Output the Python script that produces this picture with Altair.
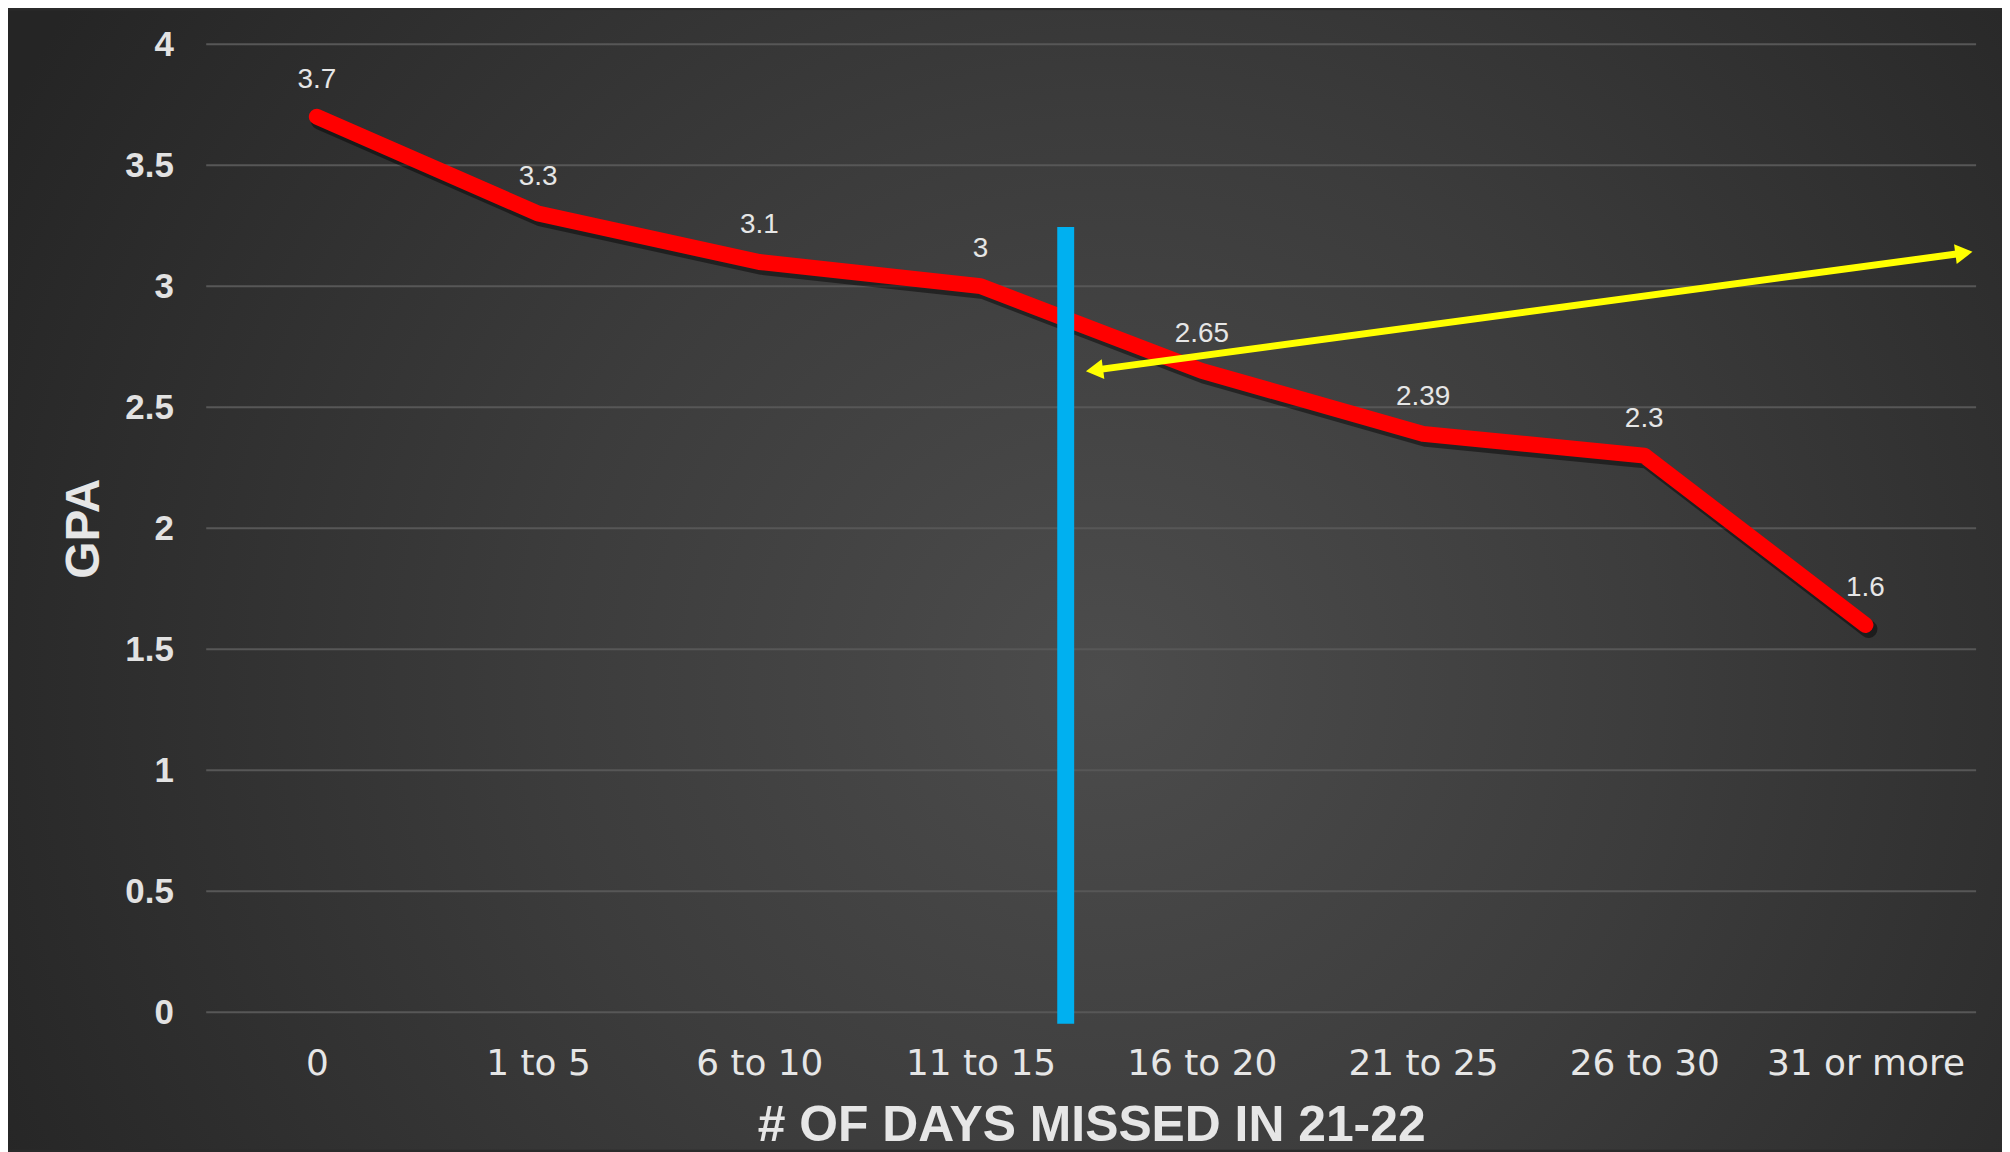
import json
import altair as alt
import pandas as pd

# ---- data ----
categories = ["0", "1 to 5", "6 to 10", "11 to 15", "16 to 20", "21 to 25", "26 to 30", "31 or more"]
gpa = [3.7, 3.3, 3.1, 3.0, 2.65, 2.39, 2.3, 1.6]
gpa_labels = ["3.7", "3.3", "3.1", "3", "2.65", "2.39", "2.3", "1.6"]
y_ticks = [0, 0.5, 1, 1.5, 2, 2.5, 3, 3.5, 4]

# annotations (in data units: x = category index, y = GPA)
blue_x = [3.385]
blue_y_top = [3.245]
blue_y_bottom = [-0.047]
arrow_x = [3.515, 7.445]
arrow_y = [2.653, 3.137]
arrow_end = ["start", "end"]

# ---- layout ----
W, H = 1777, 972
PAD = {"left": 199, "top": 34, "right": 26, "bottom": 138}

df = pd.DataFrame({"idx": list(range(len(categories))), "cat": categories,
                   "gpa": gpa, "label": gpa_labels})
grid_df = pd.DataFrame({"gpa": y_ticks})
blue_df = pd.DataFrame({"idx": blue_x, "gpa": blue_y_top, "gpa2": blue_y_bottom})
arrow_df = pd.DataFrame({"idx": arrow_x, "gpa": arrow_y, "end": arrow_end})
bg_df = pd.DataFrame({"a": [0]})

label_expr = json.dumps(categories) + "[datum.value]"

x_axis = alt.Axis(values=list(range(len(categories))), labelExpr=label_expr, grid=False,
                  domain=False, ticks=False, labelPadding=34, labelFontSize=36,
                  labelFont="DejaVu Sans", labelColor="#e6e6e6", labelFlush=False,
                  labelOverlap=False, labelLimit=600, title="# OF DAYS MISSED IN 21-22",
                  titleFont="Liberation Sans", titleFontSize=50, titleFontWeight="bold",
                  titleColor="#e6e6e6", titleX=W / 2, titleY=129,
                  titleBaseline="alphabetic", titleAlign="center", zindex=1)
y_axis = alt.Axis(values=y_ticks, format="~g", grid=False, domain=False, ticks=False,
                  labelPadding=33, labelFontSize=35, labelFont="Liberation Sans",
                  labelFontWeight="bold", labelColor="#e2e2e2", title="GPA",
                  titleFont="Liberation Sans", titleFontSize=48, titleFontWeight="bold",
                  titleColor="#e6e6e6", titleAngle=270, titleX=-108, titleY=H / 2,
                  titleBaseline="alphabetic", titleAlign="center", zindex=1)

xs = alt.Scale(domain=[-0.5, len(categories) - 0.5], nice=False, zero=False)
ys = alt.Scale(domain=[0, 4], nice=False, zero=False)

X = alt.X("idx:Q", scale=xs, axis=x_axis)
Y = alt.Y("gpa:Q", scale=ys, axis=y_axis)

gradient = alt.RadialGradient(
    gradient="radial",
    stops=[alt.GradientStop(color="#4c4c4c", offset=0),
           alt.GradientStop(color="#3c3c3c", offset=0.45),
           alt.GradientStop(color="#252525", offset=1)],
    x1=0.55, y1=0.55, r1=0, x2=0.55, y2=0.55, r2=0.62)

background = alt.Chart(bg_df).mark_rect(fill=gradient).encode(
    x=alt.value(-PAD["left"]), x2=alt.value(W + PAD["right"]),
    y=alt.value(-PAD["top"]), y2=alt.value(H + PAD["bottom"]))

grid = alt.Chart(grid_df).mark_rule(color="#575757", strokeWidth=2).encode(
    y=Y, x=alt.value(0), x2=alt.value(W))

shadow = alt.Chart(df).mark_line(color="#000000", opacity=0.45, strokeWidth=18,
                                 strokeCap="round", strokeJoin="round",
                                 xOffset=3, yOffset=4).encode(x=X, y=Y)
line = alt.Chart(df).mark_line(color="#ff0000", strokeWidth=16, strokeCap="round",
                               strokeJoin="round").encode(x=X, y=Y)
labels = alt.Chart(df).mark_text(dy=-37, fontSize=28, font="Liberation Sans",
                                 color="#e6e6e6", align="center",
                                 baseline="middle").encode(x=X, y=Y, text="label:N")

blue = alt.Chart(blue_df).mark_rule(color="#00b0f0", strokeWidth=17).encode(
    x=X, y=Y, y2="gpa2:Q")

shaft = alt.Chart(arrow_df).mark_line(color="#ffff00", strokeWidth=7).encode(x=X, y=Y)
heads = alt.Chart(arrow_df).mark_point(filled=True, size=400, color="#ffff00", opacity=1,
                                       angle=352.3).encode(
    x=X, y=Y,
    shape=alt.Shape("end:N", scale=alt.Scale(domain=["start", "end"],
                                             range=["triangle-left", "triangle-right"]),
                    legend=None))

chart = alt.layer(background, grid, shadow, line, labels, blue, shaft, heads).properties(
    width=W, height=H, padding=PAD, background="#2b2b2b",
    autosize=alt.AutoSizeParams(type="none")
).configure_view(stroke=None)

chart.save("out.html", embed_options={"renderer": "svg", "actions": False})
